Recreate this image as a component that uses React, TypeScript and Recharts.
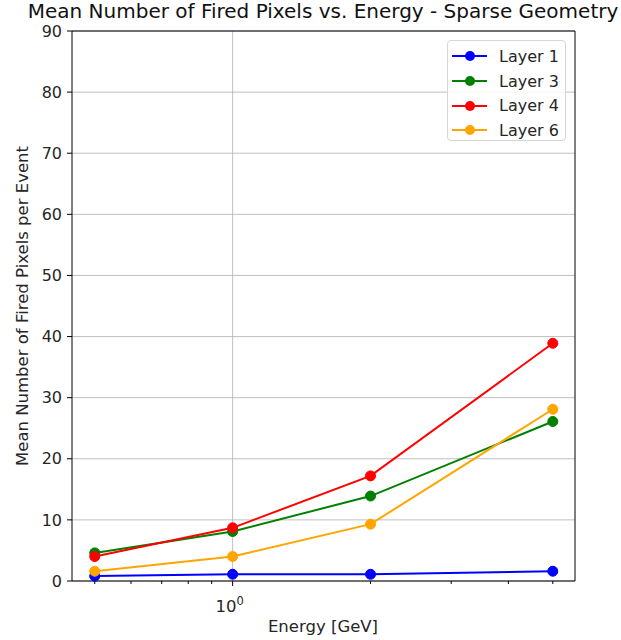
import { LineChart, Line, XAxis, YAxis, CartesianGrid, ReferenceLine } from "recharts";

const energies = [0.5, 1, 2, 5];
const layer1 = [0.8, 1.1, 1.1, 1.6];
const layer3 = [4.6, 8.1, 13.9, 26.1];
const layer4 = [4.0, 8.7, 17.2, 38.9];
const layer6 = [1.6, 4.0, 9.3, 28.1];

const seriesNames = ["Layer 1", "Layer 3", "Layer 4", "Layer 6"];
const seriesColors = ["#0000ff", "#008000", "#ff0000", "#ffa500"];
const seriesValues = [layer1, layer3, layer4, layer6];

const xTicks = [0.5, 0.6, 0.7, 0.8, 0.9, 1, 2, 3, 4, 5];
const yTicks = [0, 10, 20, 30, 40, 50, 60, 70, 80, 90];
const xDomain = [0.446, 5.59];

const data = energies.map((e, i) => {
    const row: Record<string, number> = { energy: e };
    seriesNames.forEach((name, k) => {
        row[name] = seriesValues[k][i];
    });
    return row;
});

const font = "'DejaVu Sans', sans-serif";
const textColor = "#262626";

function EnergyTick({ x, y, payload }: any) {
    const major = payload.value === 1;
    return (
        <g>
            <line x1={x} x2={x} y1={y} y2={y + (major ? 5 : 3)} stroke="#000" strokeWidth={1} />
            {major && (
                <text x={x - 3} y={y + 31} textAnchor="middle" fontSize={16.5} fill={textColor} fontFamily={font}>
                    10
                    <tspan dy={-7} fontSize={11.5}>0</tspan>
                </text>
            )}
        </g>
    );
}

function BoxLegend() {
    return (
        <div
            style={{
                position: "absolute",
                left: 447,
                top: 40,
                width: 119,
                height: 101,
                boxSizing: "border-box",
                background: "rgba(255,255,255,0.85)",
                border: "1px solid #d6d6d6",
                borderRadius: 4,
                padding: "3px 0 0 4px",
                fontFamily: font,
                fontSize: 16,
                color: textColor,
                zIndex: 2,
            }}
        >
            {seriesNames.map((name, i) => (
                <div key={name} style={{ display: "flex", alignItems: "center", height: 24.7 }}>
                    <svg width={36} height={14} style={{ marginRight: 11 }}>
                        <line x1={0} x2={35} y1={7} y2={7} stroke={seriesColors[i]} strokeWidth={2} />
                        <circle cx={18} cy={7} r={5} fill={seriesColors[i]} />
                    </svg>
                    <span>{name}</span>
                </div>
            ))}
        </div>
    );
}

export default function App() {
    return (
        <div style={{ position: "absolute", left: 0, top: 0, width: 621, height: 640, background: "#fff" }}>
            <div
                style={{
                    position: "absolute",
                    left: 323,
                    top: 4,
                    lineHeight: "14px",
                    transform: "translateX(-50%)",
                    whiteSpace: "nowrap",
                    fontFamily: font,
                    fontSize: 20,
                    color: "#111",
                }}
            >
                Mean Number of Fired Pixels vs. Energy - Sparse Geometry
            </div>
            <div
                style={{
                    position: "absolute",
                    left: 22,
                    top: 306,
                    transform: "translate(-50%, -50%) rotate(-90deg)",
                    whiteSpace: "nowrap",
                    fontFamily: font,
                    fontSize: 16.5,
                    color: textColor,
                }}
            >
                Mean Number of Fired Pixels per Event
            </div>
            <div
                style={{
                    position: "absolute",
                    left: 323,
                    top: 617,
                    transform: "translateX(-50%)",
                    whiteSpace: "nowrap",
                    fontFamily: font,
                    fontSize: 16.5,
                    color: textColor,
                }}
            >
                Energy [GeV]
            </div>
            <BoxLegend />
            <LineChart width={621} height={640} data={data} margin={{ top: 31, right: 46, bottom: 0, left: 0 }}>
                <CartesianGrid vertical={false} stroke="#b0b0b0" strokeWidth={0.8} />
                <ReferenceLine x={1} stroke="#b0b0b0" strokeWidth={0.8} />
                <ReferenceLine y={90} stroke="#000" strokeWidth={1} />
                <ReferenceLine x={xDomain[1]} stroke="#000" strokeWidth={1} />
                <XAxis
                    dataKey="energy"
                    type="number"
                    scale="log"
                    domain={xDomain}
                    allowDataOverflow
                    ticks={xTicks}
                    interval={0}
                    tickSize={0}
                    tickMargin={0}
                    tickLine={false}
                    tick={<EnergyTick />}
                    axisLine={{ stroke: "#000" }}
                    height={59}
                />
                <YAxis
                    type="number"
                    domain={[0, 90]}
                    ticks={yTicks}
                    interval={0}
                    width={72}
                    tickSize={5}
                    tickMargin={5}
                    tickLine={{ stroke: "#000" }}
                    axisLine={{ stroke: "#000" }}
                    tick={{ fontSize: 16, fill: textColor, fontFamily: font }}
                />
                {seriesNames.map((name, i) => (
                    <Line
                        key={name}
                        dataKey={name}
                        stroke={seriesColors[i]}
                        strokeWidth={2}
                        dot={{ r: 5, fill: seriesColors[i], stroke: seriesColors[i], strokeWidth: 1 }}
                        activeDot={false}
                        isAnimationActive={false}
                    />
                ))}
            </LineChart>
        </div>
    );
}
